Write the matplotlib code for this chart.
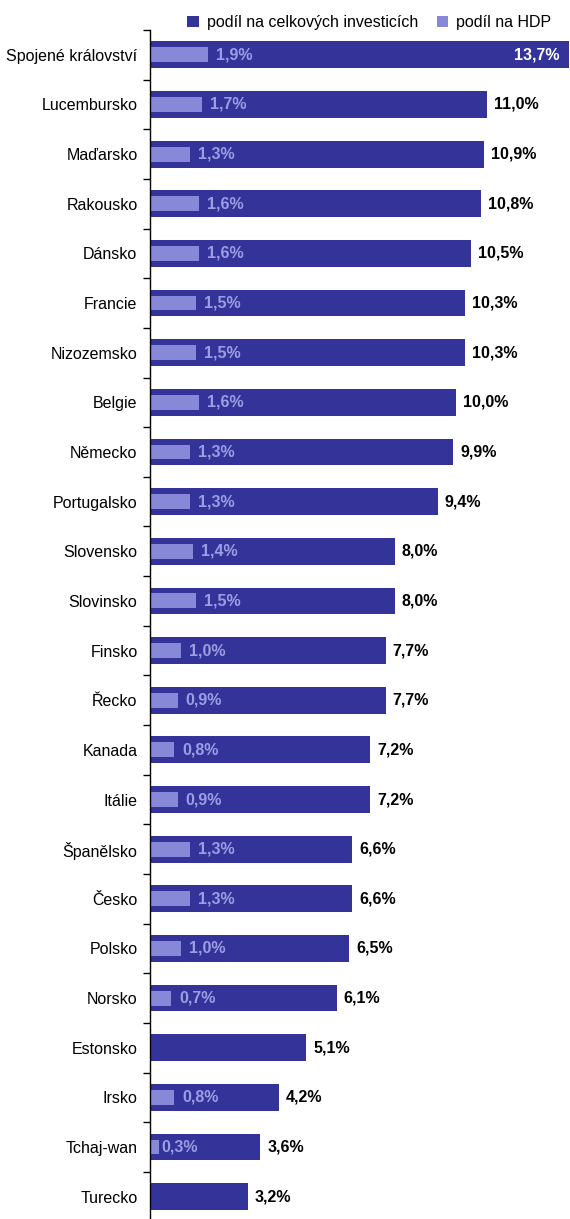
import numpy as np
import matplotlib
matplotlib.use("Agg")
import matplotlib.pyplot as plt
from matplotlib.patches import Patch

plt.rcParams['font.family'] = ['Liberation Sans', 'DejaVu Sans']

countries = ["Spojené království", "Lucembursko", "Maďarsko", "Rakousko", "Dánsko",
             "Francie", "Nizozemsko", "Belgie", "Německo", "Portugalsko", "Slovensko",
             "Slovinsko", "Finsko", "Řecko", "Kanada", "Itálie", "Španělsko", "Česko",
             "Polsko", "Norsko", "Estonsko", "Irsko", "Tchaj-wan", "Turecko"]
share_investment = [13.7, 11.0, 10.9, 10.8, 10.5, 10.3, 10.3, 10.0, 9.9, 9.4, 8.0,
                    8.0, 7.7, 7.7, 7.2, 7.2, 6.6, 6.6, 6.5, 6.1, 5.1, 4.2, 3.6, 3.2]
share_gdp = [1.9, 1.7, 1.3, 1.6, 1.6, 1.5, 1.5, 1.6, 1.3, 1.3, 1.4,
             1.5, 1.0, 0.9, 0.8, 0.9, 1.3, 1.3, 1.0, 0.7, np.nan, 0.8, 0.3, 0.02]

DARK = "#333399"
LIGHT = "#8888d8"
LIGHT_TEXT = "#9d9de4"
FS = 11.5

W, H = 570, 1219
fig = plt.figure(figsize=(W / 100, H / 100), dpi=100)
top_px, bottom_px = 30, 1221.5
ax = fig.add_axes([150 / W, 1 - bottom_px / H, (570 - 150) / W, (bottom_px - top_px) / H])

n = len(countries)
y = np.arange(n)
ax.barh(y, share_investment, height=0.54, color=DARK, zorder=2)
gdp = np.nan_to_num(np.array(share_gdp, dtype=float))
ax.barh(y, gdp, height=0.30, color=LIGHT, zorder=3)

ax.set_xlim(0, 13.72)
ax.set_ylim(n - 0.5, -0.5)

px = 13.72 / 420  # data units per pixel
for yi, inv, g in zip(y, share_investment, share_gdp):
    inv_txt = f"{inv:.1f}%".replace(".", ",")
    if inv >= 13:
        ax.text(inv - 10 * px, yi, inv_txt, ha="right", va="center", color="white",
                fontsize=FS, fontweight="bold", zorder=4)
    else:
        ax.text(inv + 7 * px, yi, inv_txt, ha="left", va="center", color="black",
                fontsize=FS, fontweight="bold", zorder=4)
    if not np.isnan(g) and g >= 0.05:
        g_txt = f"{g:.1f}%".replace(".", ",")
        ax.text(g + (8 if g > 0.5 else 2) * px, yi, g_txt, ha="left", va="center",
                color=LIGHT_TEXT, fontsize=FS, fontweight="bold", zorder=4)

ax.set_yticks(y)
ax.set_yticklabels(countries, fontsize=FS)
ax.tick_params(axis="y", which="major", length=0, pad=9)
ax.set_yticks(np.arange(-0.5, n, 1.0), minor=True)
ax.tick_params(axis="y", which="minor", length=5, width=1, direction="out", color="black")
ax.set_xticks([])
for s in ["top", "right", "bottom"]:
    ax.spines[s].set_visible(False)
ax.spines["left"].set_linewidth(1)
ax.spines["left"].set_zorder(5)

handles = [Patch(facecolor=DARK, label="podíl na celkových investicích"),
           Patch(facecolor=LIGHT, label="podíl na HDP")]
fig.legend(handles=handles, loc="upper right", bbox_to_anchor=(564 / W, 1 - 2 / H),
           ncol=2, frameon=False, fontsize=FS, handlelength=0.7, handleheight=0.7,
           handletextpad=0.5, columnspacing=1.2, borderpad=0.3)

fig.savefig("out.png", dpi=100)
